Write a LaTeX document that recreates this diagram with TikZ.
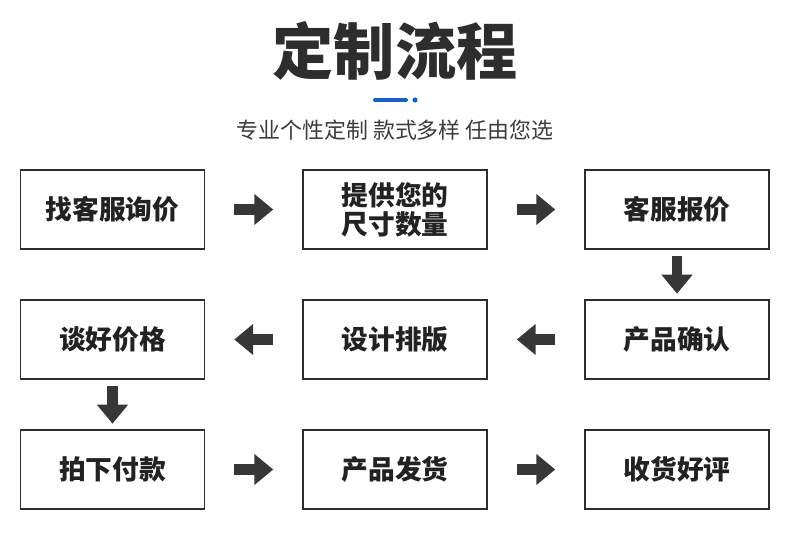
\documentclass[tikz,border=0pt]{standalone}
\usepackage{fontspec}
\setmainfont{Noto Sans CJK SC}
\usetikzlibrary{arrows.meta}
\definecolor{cInk}{RGB}{45,45,45}
\definecolor{cText}{RGB}{34,34,34}
\definecolor{cSub}{RGB}{60,60,60}
\definecolor{cArrow}{RGB}{55,55,55}
\definecolor{cBlue}{RGB}{25,95,205}
\tikzset{
  %% process boxes
  stepbox/.style={rectangle, draw=cInk, line width=1pt, fill=white,
                  minimum width=4.6cm, minimum height=1.975cm, align=center,
                  inner sep=2pt, text=cText,
                  font=\bfseries\fontsize{19}{20.6}\selectfont},
  %% block arrows
  flowarrow/.style={draw=cArrow, line width=7.8pt,
                    -{Triangle[length=13.5pt, width=21.3pt]}},
  flowarrowH/.style={flowarrow, shorten <=0.725cm, shorten >=0.725cm},
  flowarrowV/.style={flowarrow, shorten <=0.16cm, shorten >=0.14cm},
  %% headings
  titletext/.style={text=cInk, font=\bfseries\fontsize{43.5}{50}\selectfont},
  subtext/.style={text=cSub, font=\fontsize{15.6}{18}\selectfont},
}

\begin{document}
\begin{tikzpicture}[x=0.025cm, y=-0.025cm]

\useasboundingbox (0,0) rectangle (790,551);

%% ============================================================
%%  GRID POSITIONS
%% ============================================================
\def\xa{112.5}
\def\xb{395}
\def\xc{677}
\def\ya{209.5}
\def\yb{339.5}
\def\yc{469.5}

%% ----- Title -----
\node[titletext] (title) at (395, 51) {定制流程};
\draw[cBlue, line width=2.85pt, line cap=round] (375, 100) -- (406, 100);
\fill[cBlue] (415, 100) circle (2.6);
\node[subtext] (subtitle) at (395, 130) {专业个性定制 款式多样 任由您选};

%% ============================================================
%%  ROW 1
%% ============================================================
\node[stepbox] (ask)    at (\xa, \ya) {找客服询价};
\node[stepbox] (size)   at (\xb, \ya) {提供您的\\尺寸数量};
\node[stepbox] (quote)  at (\xc, \ya) {客服报价};

%% ============================================================
%%  ROW 2
%% ============================================================
\node[stepbox] (price)  at (\xa, \yb) {谈好价格};
\node[stepbox] (design) at (\xb, \yb) {设计排版};
\node[stepbox] (check)  at (\xc, \yb) {产品确认};

%% ============================================================
%%  ROW 3
%% ============================================================
\node[stepbox] (pay)    at (\xa, \yc) {拍下付款};
\node[stepbox] (ship)   at (\xb, \yc) {产品发货};
\node[stepbox] (review) at (\xc, \yc) {收货好评};

%% ----- Arrows -----
\draw[flowarrowH] (ask.east)    -- (size.west);
\draw[flowarrowH] (size.east)   -- (quote.west);
\draw[flowarrowV] (quote.south) -- (check.north);
\draw[flowarrowH] (check.west)  -- (design.east);
\draw[flowarrowH] (design.west) -- (price.east);
\draw[flowarrowV] (price.south) -- (pay.north);
\draw[flowarrowH] (pay.east)    -- (ship.west);
\draw[flowarrowH] (ship.east)   -- (review.west);

\end{tikzpicture}
\end{document}
